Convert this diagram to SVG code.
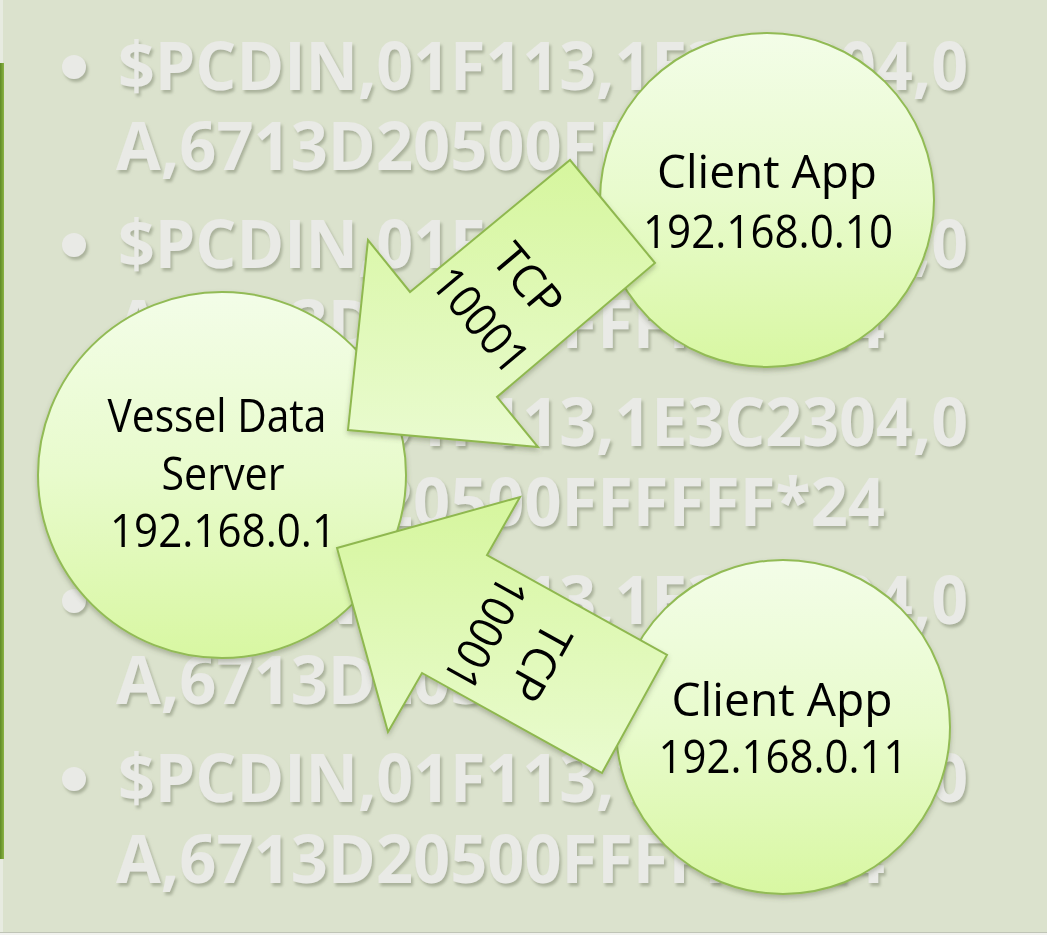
<svg xmlns="http://www.w3.org/2000/svg" width="1047" height="935" viewBox="0 0 1047 935">
  <style>
    .bg-text { font-family: "Open Sans", "Liberation Sans", sans-serif; font-weight: bold; font-size: 66px; fill: #e9eae6; }
    .bullet { fill: #e9eae6; }
    .node-shape { stroke: #92bb55; stroke-width: 2; }
    .label { font-family: "Open Sans", "Liberation Sans", sans-serif; font-size: 46px; fill: #000; text-anchor: middle; }
    .arrow-shape { fill: url(#arrowFill); stroke: #8fb84f; stroke-width: 2; stroke-linejoin: miter; }
  </style>
  <defs>
    <linearGradient id="nodeFill" x1="0" y1="0" x2="0" y2="1">
      <stop offset="0" stop-color="#f3fde8"/>
      <stop offset="0.5" stop-color="#e8fbcc"/>
      <stop offset="1" stop-color="#d8f7a2"/>
    </linearGradient>
    <linearGradient id="arrowFill" x1="0" y1="0" x2="0" y2="1">
      <stop offset="0" stop-color="#d6f69e"/>
      <stop offset="1" stop-color="#e9fbcf"/>
    </linearGradient>
    <linearGradient id="edgeGreen" x1="0" y1="0" x2="1" y2="0">
      <stop offset="0" stop-color="#5f8a25"/>
      <stop offset="1" stop-color="#8bb445"/>
    </linearGradient>
    <filter id="embossShadow" x="-5%" y="-20%" width="110%" height="150%">
      <feGaussianBlur in="SourceAlpha" stdDeviation="1.6"/>
      <feOffset dx="2" dy="3" result="off"/>
      <feFlood flood-color="#9ea68f" flood-opacity="0.8"/>
      <feComposite in2="off" operator="in" result="shadow"/>
      <feMerge>
        <feMergeNode in="shadow"/>
        <feMergeNode in="SourceGraphic"/>
      </feMerge>
    </filter>
    <filter id="softShadow" x="-10%" y="-10%" width="120%" height="125%">
      <feDropShadow dx="0" dy="3" stdDeviation="2.5" flood-color="#4d5a3a" flood-opacity="0.35"/>
    </filter>
  </defs>

  <!-- slide background -->
  <rect x="0" y="0" width="1047" height="935" fill="#dbe2cd"/>
  <rect x="0" y="0" width="3" height="935" fill="#e7ebe0"/>
  <rect x="0" y="63" width="4" height="796" fill="url(#edgeGreen)"/>
  <rect x="0" y="932" width="1047" height="1" fill="#bfc4b6"/>
  <rect x="0" y="933" width="1047" height="2" fill="#f2f3ef"/>

  <!-- faint bulleted sentence text -->
  <g id="background-text" filter="url(#embossShadow)">
    <circle class="bullet" cx="74" cy="67" r="12"/>
    <text class="bg-text" x="118" y="90" textLength="850" lengthAdjust="spacingAndGlyphs">$PCDIN,01F113,1E3C2304,0</text>
    <text class="bg-text" x="116" y="170" textLength="769" lengthAdjust="spacingAndGlyphs">A,6713D20500FFFFFF*24</text>
    <circle class="bullet" cx="74" cy="245" r="12"/>
    <text class="bg-text" x="118" y="268" textLength="850" lengthAdjust="spacingAndGlyphs">$PCDIN,01F113,1E3C2304,0</text>
    <text class="bg-text" x="116" y="348" textLength="769" lengthAdjust="spacingAndGlyphs">A,6713D20500FFFFFF*24</text>
    <circle class="bullet" cx="74" cy="423" r="12"/>
    <text class="bg-text" x="118" y="446" textLength="850" lengthAdjust="spacingAndGlyphs">$PCDIN,01F113,1E3C2304,0</text>
    <text class="bg-text" x="116" y="526" textLength="769" lengthAdjust="spacingAndGlyphs">A,6713D20500FFFFFF*24</text>
    <circle class="bullet" cx="74" cy="601" r="12"/>
    <text class="bg-text" x="118" y="624" textLength="850" lengthAdjust="spacingAndGlyphs">$PCDIN,01F113,1E3C2304,0</text>
    <text class="bg-text" x="116" y="704" textLength="769" lengthAdjust="spacingAndGlyphs">A,6713D20500FFFFFF*24</text>
    <circle class="bullet" cx="74" cy="779" r="12"/>
    <text class="bg-text" x="118" y="802" textLength="850" lengthAdjust="spacingAndGlyphs">$PCDIN,01F113,1E3C2304,0</text>
    <text class="bg-text" x="116" y="883" textLength="769" lengthAdjust="spacingAndGlyphs">A,6713D20500FFFFFF*24</text>
  </g>

  <!-- nodes -->
  <g id="node-server" filter="url(#softShadow)">
    <ellipse class="node-shape" cx="222" cy="475" rx="184" ry="183" fill="url(#nodeFill)"/>
    <text class="label" x="217" y="432" textLength="219" lengthAdjust="spacingAndGlyphs">Vessel Data</text>
    <text class="label" x="223" y="490" textLength="123" lengthAdjust="spacingAndGlyphs">Server</text>
    <text class="label" x="223" y="547" textLength="226" lengthAdjust="spacingAndGlyphs">192.168.0.1</text>
  </g>

  <g id="node-client-10" filter="url(#softShadow)">
    <circle class="node-shape" cx="767" cy="200" r="167" fill="url(#nodeFill)"/>
    <text class="label" x="767" y="188" textLength="220" lengthAdjust="spacingAndGlyphs">Client App</text>
    <text class="label" x="768" y="248" textLength="250" lengthAdjust="spacingAndGlyphs">192.168.0.10</text>
  </g>

  <g id="node-client-11" filter="url(#softShadow)">
    <circle class="node-shape" cx="783" cy="727" r="167" fill="url(#nodeFill)"/>
    <text class="label" x="782" y="716" textLength="221" lengthAdjust="spacingAndGlyphs">Client App</text>
    <text class="label" x="783" y="773" textLength="249" lengthAdjust="spacingAndGlyphs">192.168.0.11</text>
  </g>

  <!-- connectors: block arrows from each client to the server -->
  <g id="connectors">
    <g id="edge-client10-server" filter="url(#softShadow)">
      <polygon class="arrow-shape" points="570,160 655,263 497,397 538,447 348,430 368,240 410,292"/>
      <g transform="translate(508,297) rotate(50)">
        <text class="label" x="0" y="-10" textLength="80" lengthAdjust="spacingAndGlyphs">TCP</text>
        <text class="label" x="0" y="52" textLength="122" lengthAdjust="spacingAndGlyphs">10001</text>
      </g>
    </g>
    <g id="edge-client11-server" filter="url(#softShadow)">
      <polygon class="arrow-shape" points="520,497 487,555 667,655 602,773 422,673 388,732 337,548"/>
      <g transform="translate(517,650) rotate(119)">
        <text class="label" x="0" y="-10" textLength="80" lengthAdjust="spacingAndGlyphs">TCP</text>
        <text class="label" x="0" y="52" textLength="122" lengthAdjust="spacingAndGlyphs">10001</text>
      </g>
    </g>
  </g>
</svg>
